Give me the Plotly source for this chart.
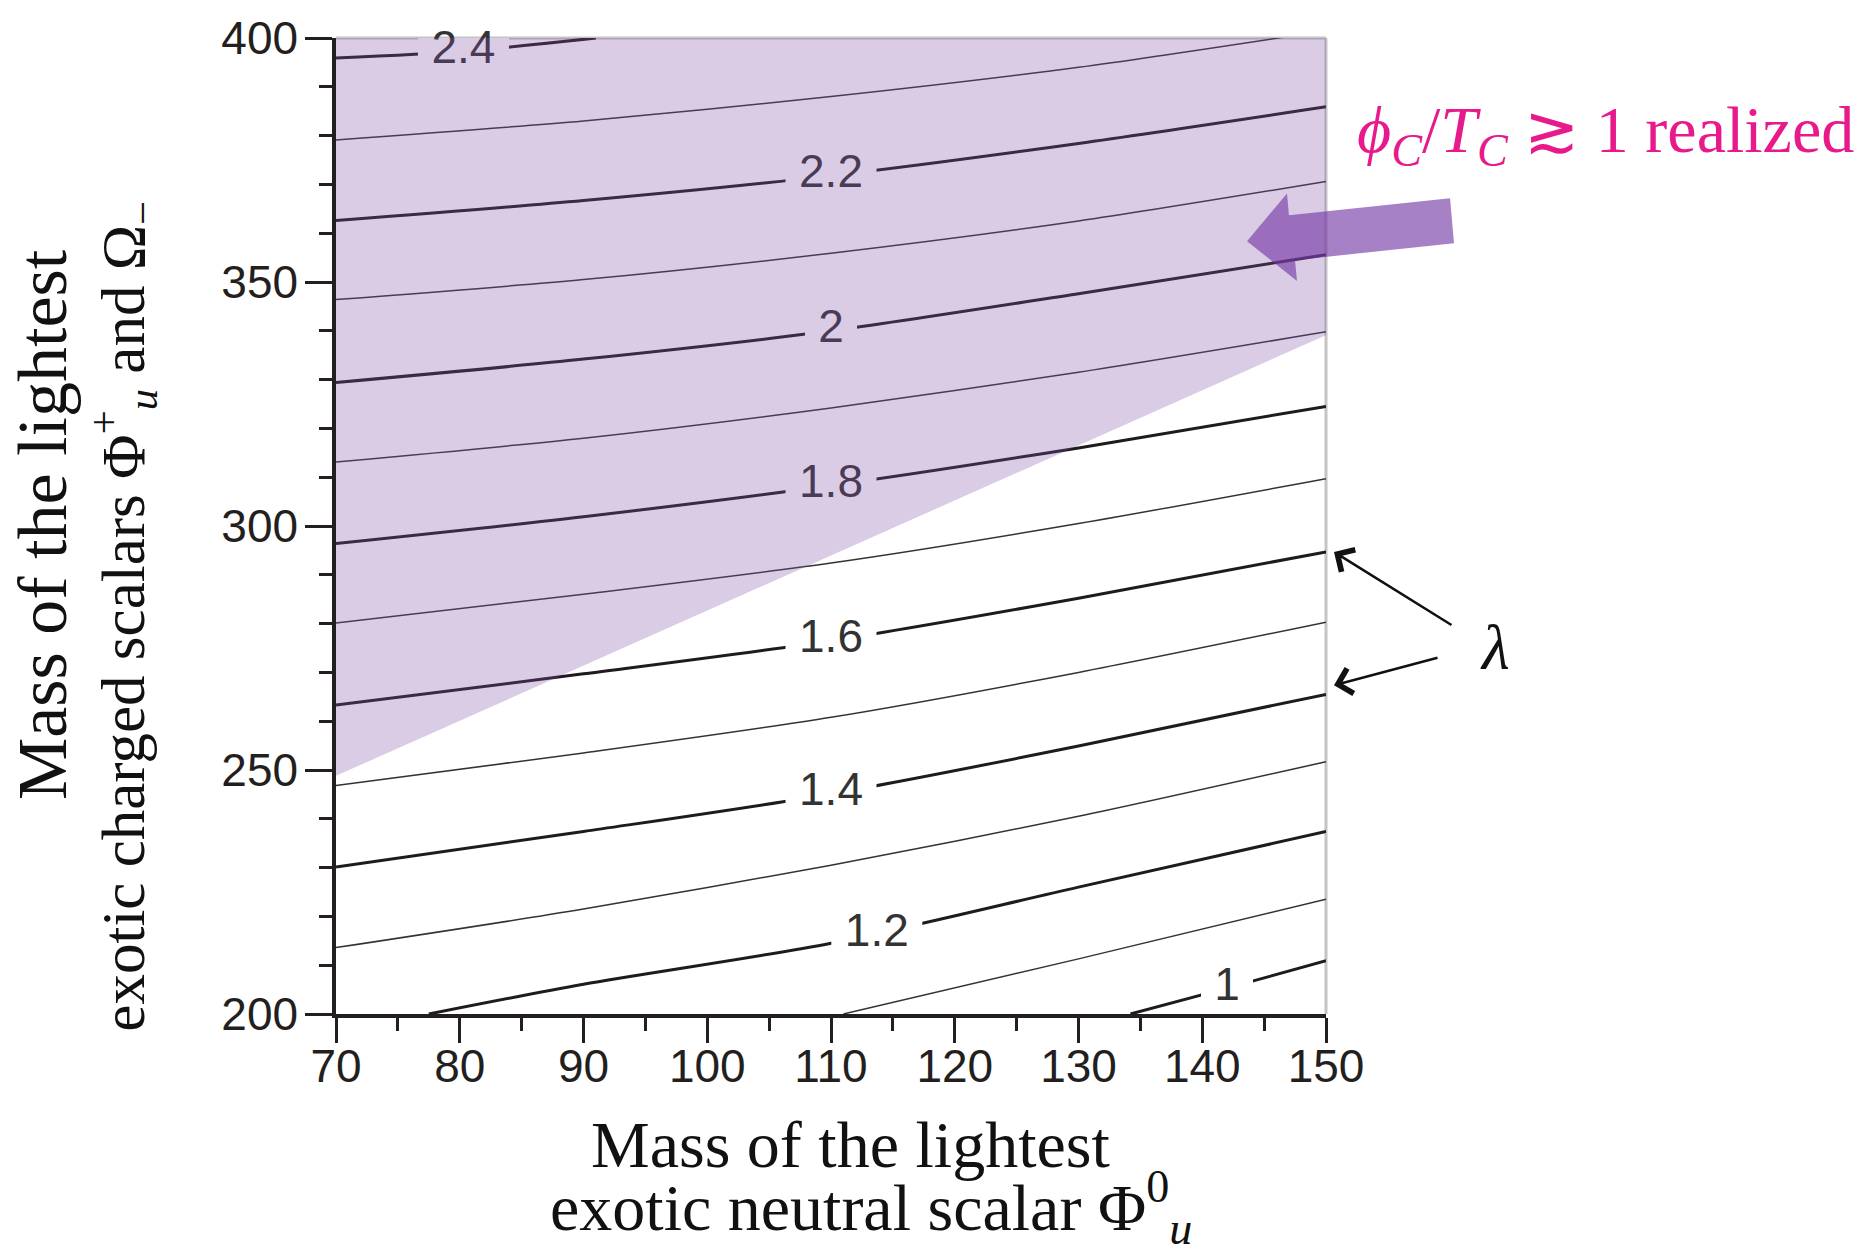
import plotly.graph_objects as go

# ---------------- data ----------------
x_axis_ticks = [70, 80, 90, 100, 110, 120, 130, 140, 150]
y_axis_ticks = [200, 250, 300, 350, 400]

grid_x = [70, 90, 110, 130, 150]

# labelled (thick) contour levels
y_2_2 = [362.6, 366.7, 371.8, 378.4, 385.9]
y_2_0 = [329.4, 334.2, 340.0, 347.6, 355.6]
y_1_8 = [296.4, 301.9, 308.3, 316.0, 324.5]
y_1_6 = [263.3, 269.7, 276.5, 285.2, 294.7]
y_1_4 = [230.1, 237.4, 245.1, 254.9, 265.5]
x_2_4 = [70, 80.3, 91.0]
y_2_4 = [395.9, 397.3, 400.0]
x_1_2 = [77.5, 90, 110, 130, 150]
y_1_2 = [200.0, 206.1, 214.5, 226.0, 237.4]
x_1_0 = [134.2, 142, 150]
y_1_0 = [200.0, 205.3, 210.9]

# thin contour levels
x_2_3 = [70, 90, 110, 130, 150]
y_2_3 = [379.1, 383.0, 388.0, 394.0, 401.5]
y_2_1 = [346.4, 350.5, 355.9, 362.5, 370.6]
y_1_9 = [313.1, 318.0, 324.2, 331.5, 339.8]
y_1_7 = [280.1, 286.0, 292.4, 300.5, 309.7]
y_1_5 = [246.8, 253.5, 260.8, 270.0, 280.3]
y_1_3 = [213.6, 221.5, 230.5, 240.5, 251.7]
x_1_1 = [111, 130, 150]
y_1_1 = [200.0, 211.3, 223.5]

# contour labels
label_text = ["2.4", "2.2", "2", "1.8", "1.6", "1.4", "1.2", "1"]
label_x = [80.3, 110, 110, 110, 110, 110, 113.7, 142]
label_y = [397.3, 371.8, 340.0, 308.3, 276.5, 245.1, 216.3, 205.3]

# shaded region (phi_C/T_C >~ 1 realized)
shade_x = [70, 150, 150, 70]
shade_y = [400, 400, 339.1, 248.8]

# ---------------- figure ----------------
W, H = 1864, 1255
ML, MR, MT, MB = 336, 538, 34, 241
PW, PH = W - ML - MR, H - MT - MB
X0, X1, Y0, Y1 = 70, 150, 200, 400
PX_PER_X = PW / (X1 - X0)
PX_PER_Y = PH / (Y1 - Y0)


def paper(px, py):
    return (px - ML) / PW, (MT + PH - py) / PH


fig = go.Figure()

thick = dict(width=3, color="#1e1a1d", shape="spline", smoothing=0.8)
thin = dict(width=1.5, color="#333333", shape="spline", smoothing=0.8)

thick_lines = [(x_2_4, y_2_4), (grid_x, y_2_2), (grid_x, y_2_0), (grid_x, y_1_8),
               (grid_x, y_1_6), (grid_x, y_1_4), (x_1_2, y_1_2), (x_1_0, y_1_0)]
thin_lines = [(x_2_3, y_2_3), (grid_x, y_2_1), (grid_x, y_1_9), (grid_x, y_1_7),
              (grid_x, y_1_5), (grid_x, y_1_3), (x_1_1, y_1_1)]

for xs, ys in thin_lines:
    fig.add_trace(go.Scatter(x=xs, y=ys, mode="lines", line=thin, hoverinfo="skip"))
for xs, ys in thick_lines:
    fig.add_trace(go.Scatter(x=xs, y=ys, mode="lines", line=thick, hoverinfo="skip"))

# white masks that break the lines around labels (beneath the translucent overlay)
mx, my = [], []
for t, lx, ly in zip(label_text, label_x, label_y):
    wpx = sum(13 if c == "." else 26 for c in t)
    hw = (wpx / 2 + 13) / PX_PER_X
    hh = 20 / PX_PER_Y
    mx += [lx - hw, lx + hw, lx + hw, lx - hw, lx - hw, None]
    my += [ly - hh, ly - hh, ly + hh, ly + hh, ly - hh, None]
fig.add_trace(go.Scatter(x=mx, y=my, mode="lines", fill="toself", fillcolor="white",
                         line=dict(width=0, color="white"), hoverinfo="skip"))

fig.add_trace(go.Scatter(
    x=label_x, y=label_y, mode="text", text=label_text,
    textposition="middle center",
    textfont=dict(family="Liberation Sans, Arial, sans-serif", size=46, color="#333333"),
    cliponaxis=False, hoverinfo="skip"))

shade_path = "M" + "L".join(f"{x},{y}" for x, y in zip(shade_x, shade_y)) + "Z"

shapes = [
    dict(type="line", xref="paper", yref="paper", x0=0, x1=1, y0=1, y1=1,
         line=dict(color="#c4c4c4", width=3), layer="below"),
    dict(type="line", xref="paper", yref="paper", x0=1, x1=1, y0=0, y1=1,
         line=dict(color="#c4c4c4", width=3), layer="below"),
    dict(type="path", xref="x", yref="y", path=shade_path,
         fillcolor="rgba(130,80,170,0.29)", line=dict(width=0), layer="above"),
]

# block arrow (pixel geometry of the annotation graphic)
arrow_px = [(1247, 238), (1287, 190), (1289, 212), (1450, 195),
            (1454, 240), (1295, 257), (1297, 278)]
arrow_pp = [paper(a, b) for a, b in arrow_px]
arrow_path = "M" + "L".join(f"{a:.4f},{b:.4f}" for a, b in arrow_pp) + "Z"
shapes.append(dict(type="path", xref="paper", yref="paper", path=arrow_path,
                   fillcolor="rgba(115,55,165,0.63)", line=dict(width=0), layer="above"))

serif = "Liberation Serif, DejaVu Serif, serif"
annotations = []

ax1 = paper(850, 1145)
ax2 = paper(871, 1208)
annotations.append(dict(xref="paper", yref="paper", x=ax1[0], y=ax1[1], showarrow=False,
                        text="Mass of the lightest", xanchor="center", yanchor="middle",
                        font=dict(family=serif, size=66, color="#111")))
annotations.append(dict(xref="paper", yref="paper", x=ax2[0], y=ax2[1], showarrow=False,
                        text="exotic neutral scalar Φ<sup>0</sup><sub><i>u</i></sub>",
                        xanchor="center", yanchor="middle",
                        font=dict(family=serif, size=66, color="#111")))
ay1 = paper(42, 523)
ay2 = paper(123, 615)
annotations.append(dict(xref="paper", yref="paper", x=ay1[0], y=ay1[1], showarrow=False,
                        text="Mass of the lightest", textangle=-90,
                        xanchor="center", yanchor="middle",
                        font=dict(family=serif, size=70, color="#111")))
annotations.append(dict(xref="paper", yref="paper", x=ay2[0], y=ay2[1], showarrow=False,
                        text="exotic charged scalars Φ<sup>+</sup><sub><i>u</i></sub> and Ω<sub>−</sub>",
                        textangle=-90, xanchor="center", yanchor="middle",
                        font=dict(family=serif, size=61, color="#111")))

mp = paper(1355, 131)
annotations.append(dict(xref="paper", yref="paper", x=mp[0], y=mp[1], showarrow=False,
                        text="<i>ϕ</i><sub><i>C</i></sub>/<i>T</i><sub><i>C</i></sub> ≳ 1 realized",
                        xanchor="left", yanchor="middle",
                        font=dict(family=serif, size=66, color="#e8198b")))

lp = paper(1495, 646)
annotations.append(dict(xref="paper", yref="paper", x=lp[0], y=lp[1], showarrow=False,
                        text="<i>λ</i>", xanchor="center", yanchor="middle",
                        font=dict(family=serif, size=64, color="#111")))
for tip, tail in [((1334, 550), (1453, 624)), ((1334, 684), (1439, 656))]:
    tp = paper(*tip)
    annotations.append(dict(xref="paper", yref="paper", x=tp[0], y=tp[1], text="",
                            showarrow=True, ax=tail[0] - tip[0], ay=tail[1] - tip[1],
                            arrowhead=4, arrowsize=2, arrowwidth=2.5, arrowcolor="#111",
                            standoff=0, startstandoff=0))

tickfont = dict(family="Liberation Sans, Arial, sans-serif", size=46, color="#231f20")
axcol = "#231f20"

fig.update_layout(
    width=W, height=H,
    margin=dict(l=ML, r=MR, t=MT, b=MB, pad=0),
    paper_bgcolor="white", plot_bgcolor="white",
    showlegend=False,
    shapes=shapes, annotations=annotations,
    xaxis=dict(range=[X0, X1], tickvals=x_axis_ticks, ticktext=[str(v) for v in x_axis_ticks],
               showgrid=False, zeroline=False, showline=True, linecolor=axcol, linewidth=3.5,
               ticks="outside", ticklen=25, tickwidth=2.5, tickcolor=axcol,
               minor=dict(dtick=5, tick0=70, ticks="outside", ticklen=13, tickwidth=2.5,
                          tickcolor=axcol, showgrid=False),
               tickfont=tickfont, ticklabelstandoff=-16),
    yaxis=dict(range=[Y0, Y1], tickvals=y_axis_ticks, ticktext=[str(v) for v in y_axis_ticks],
               showgrid=False, zeroline=False, showline=True, linecolor=axcol, linewidth=3.5,
               ticks="outside", ticklen=27, tickwidth=2.5, tickcolor=axcol,
               minor=dict(dtick=10, tick0=200, ticks="outside", ticklen=13, tickwidth=2.5,
                          tickcolor=axcol, showgrid=False),
               tickfont=tickfont, ticklabelstandoff=-2),
)

fig.write_html("out.html")
